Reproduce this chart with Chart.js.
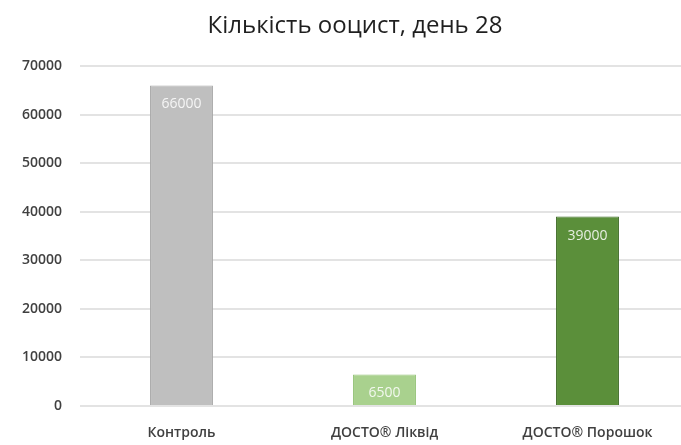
<!DOCTYPE html>
<html>
<head>
<meta charset="utf-8">
<script src="https://cdn.jsdelivr.net/npm/chart.js@4/dist/chart.umd.min.js"></script>
<style>
  html, body { margin: 0; padding: 0; background: #ffffff; overflow: hidden; }
  #wrap { width: 700px; height: 445px; }
</style>
</head>
<body>
<div id="wrap"><canvas id="c" width="700" height="445"></canvas></div>
<script>
const titleText = 'Кількість ооцист, день 28';
const categories = ['Контроль', 'ДОСТО® Ліквід', 'ДОСТО® Порошок'];
const values = [66000, 6500, 39000];
const yTicks = [0, 10000, 20000, 30000, 40000, 50000, 60000, 70000];
const barColors = ['#bfbfbf', '#a9d18e', '#5b8f3a'];
const barBorders = ['#a8a8a8', '#94c377', '#3f6b27'];

const valueLabels = {
  id: 'valueLabels',
  afterDatasetsDraw(chart) {
    const ctx = chart.ctx;
    const meta = chart.getDatasetMeta(0);
    ctx.save();
    ctx.font = '14px "Open Sans", sans-serif';
    ctx.fillStyle = 'rgba(255,255,255,0.85)';
    ctx.textAlign = 'center';
    ctx.textBaseline = 'middle';
    meta.data.forEach((bar, i) => {
      ctx.fillText(String(chart.data.datasets[0].data[i]), bar.x, bar.y + 19);
    });
    ctx.restore();
  }
};

new Chart(document.getElementById('c'), {
  type: 'bar',
  data: {
    labels: categories,
    datasets: [{
      data: values,
      backgroundColor: barColors,
      borderColor: barBorders,
      borderWidth: 1,
      barPercentage: 0.31,
      categoryPercentage: 1.0
    }]
  },
  options: {
    responsive: false,
    animation: false,
    layout: { padding: { left: 21, right: 11, top: 0, bottom: 0 } },
    plugins: {
      legend: { display: false },
      tooltip: { enabled: false },
      title: {
        display: true,
        text: titleText,
        color: '#1f1f1f',
        font: { family: '"Open Sans", sans-serif', size: 24, weight: 'normal', lineHeight: 1.2 },
        padding: { top: 12, bottom: 25.2 }
      }
    },
    scales: {
      x: {
        grid: { display: false, drawTicks: false },
        border: { display: false },
        ticks: {
          color: '#404040',
          font: { family: '"Open Sans", sans-serif', size: 14, weight: '600' },
          padding: 19,
          maxRotation: 0
        },
        afterFit(scale) { scale.height = 39; }
      },
      y: {
        min: 0,
        max: 70000,
        afterBuildTicks(scale) { scale.ticks = yTicks.map(v => ({ value: v })); },
        grid: { color: '#e3e3e3', lineWidth: 2, drawTicks: false },
        border: { display: false },
        ticks: {
          color: '#404040',
          font: { family: '"Open Sans", sans-serif', size: 14, weight: '600' },
          padding: 18,
          callback: (v) => String(v)
        },
        afterFit(scale) { scale.width = 59; }
      }
    }
  },
  plugins: [valueLabels]
});
</script>
</body>
</html>
